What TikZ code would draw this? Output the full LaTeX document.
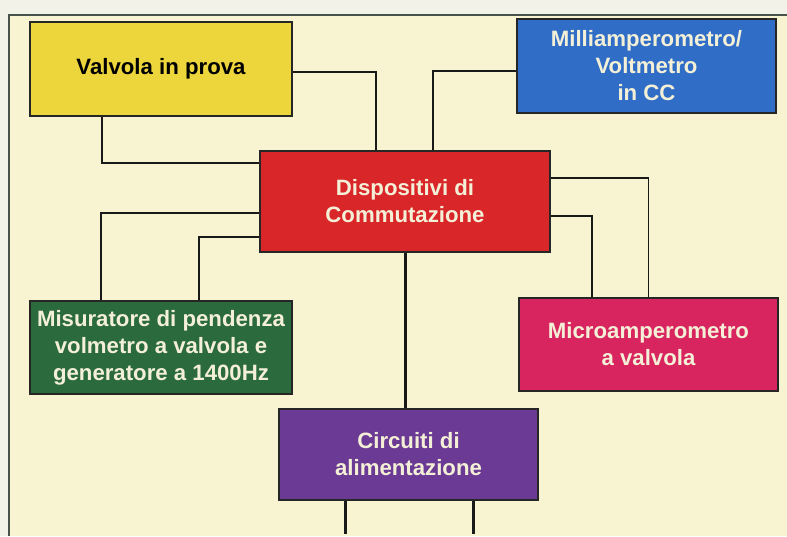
\documentclass[tikz,border=0pt]{standalone}
\usepackage{fontspec}
\setmainfont{Liberation Sans}
\definecolor{paper}{HTML}{F3F2E8}
\definecolor{cream}{HTML}{F8F4D2}
\definecolor{framec}{HTML}{46524A}
\definecolor{yel}{HTML}{EDD53C}
\definecolor{redb}{HTML}{D92629}
\definecolor{blueb}{HTML}{2F6DC6}
\definecolor{greenb}{HTML}{2B6A3C}
\definecolor{purpb}{HTML}{6A3A94}
\definecolor{magb}{HTML}{D8245F}
\definecolor{txtl}{HTML}{F4F0D8}
\tikzset{
  box/.style={draw=black!85, line width=1.4pt, inner sep=2pt, align=center,
    font=\bfseries\fontsize{22.2}{27}\selectfont},
  wire/.style={draw=black!90, line width=1.3pt},
  thickwire/.style={draw=black!90, line width=3pt},
}
\begin{document}
\begin{tikzpicture}[x=1pt,y=-1pt]
\useasboundingbox (0,0) rectangle (787,536);
\fill[paper] (0,0) rectangle (787,536);
\fill[cream] (9,15) rectangle (787,536);
\draw[framec, line width=2.2pt] (9,536) -- (9,15) -- (787,15);

\node[box, fill=yel, text=black, minimum width=262pt, minimum height=94pt] (v) at (161,69) {Valvola in prova};
\node[box, fill=redb, text=txtl, minimum width=290pt, minimum height=101pt] (d) at (405,201.5) {Dispositivi di\\Commutazione};
\node[box, fill=blueb, text=txtl, minimum width=259pt, minimum height=94pt] (m) at (646.5,66) {Milliamperometro/\\Voltmetro\\in CC};
\node[box, fill=greenb, text=txtl, minimum width=262pt, minimum height=93pt] (g) at (161,347.5) {Misuratore di pendenza\\volmetro a valvola e\\generatore a 1400Hz};
\node[box, fill=purpb, text=txtl, minimum width=259pt, minimum height=91pt] (c) at (408.5,454.5) {Circuiti di\\alimentazione};
\node[box, fill=magb, text=txtl, minimum width=259pt, minimum height=93pt] (u) at (648.5,344.5) {Microamperometro\\a valvola};

\coordinate (b1) at (345,534);
\coordinate (b2) at (473,534);

\draw[wire] ([yshift=-3pt]v.east) -| ([xshift=-29pt]d.north);
\draw[wire] ([xshift=-59pt]v.south) |- ([yshift=38.5pt]d.west);
\draw[wire] ([yshift=-11.5pt]d.west) -| ([xshift=-60pt]g.north);
\draw[wire] ([yshift=-35.5pt]d.west) -| ([xshift=38pt]g.north);
\draw[wire] ([yshift=-5pt]m.west) -| ([xshift=28pt]d.north);
\draw[wire] ([yshift=23.5pt]d.east) -| (u.north);
\draw[wire] ([yshift=-14.5pt]d.east) -| ([xshift=-56.5pt]u.north);
\draw[thickwire] (d.south) -- (d.south |- c.north);
\draw[thickwire] ([xshift=-63.5pt]c.south) -- (b1);
\draw[thickwire] ([xshift=64.5pt]c.south) -- (b2);
\end{tikzpicture}
\end{document}
